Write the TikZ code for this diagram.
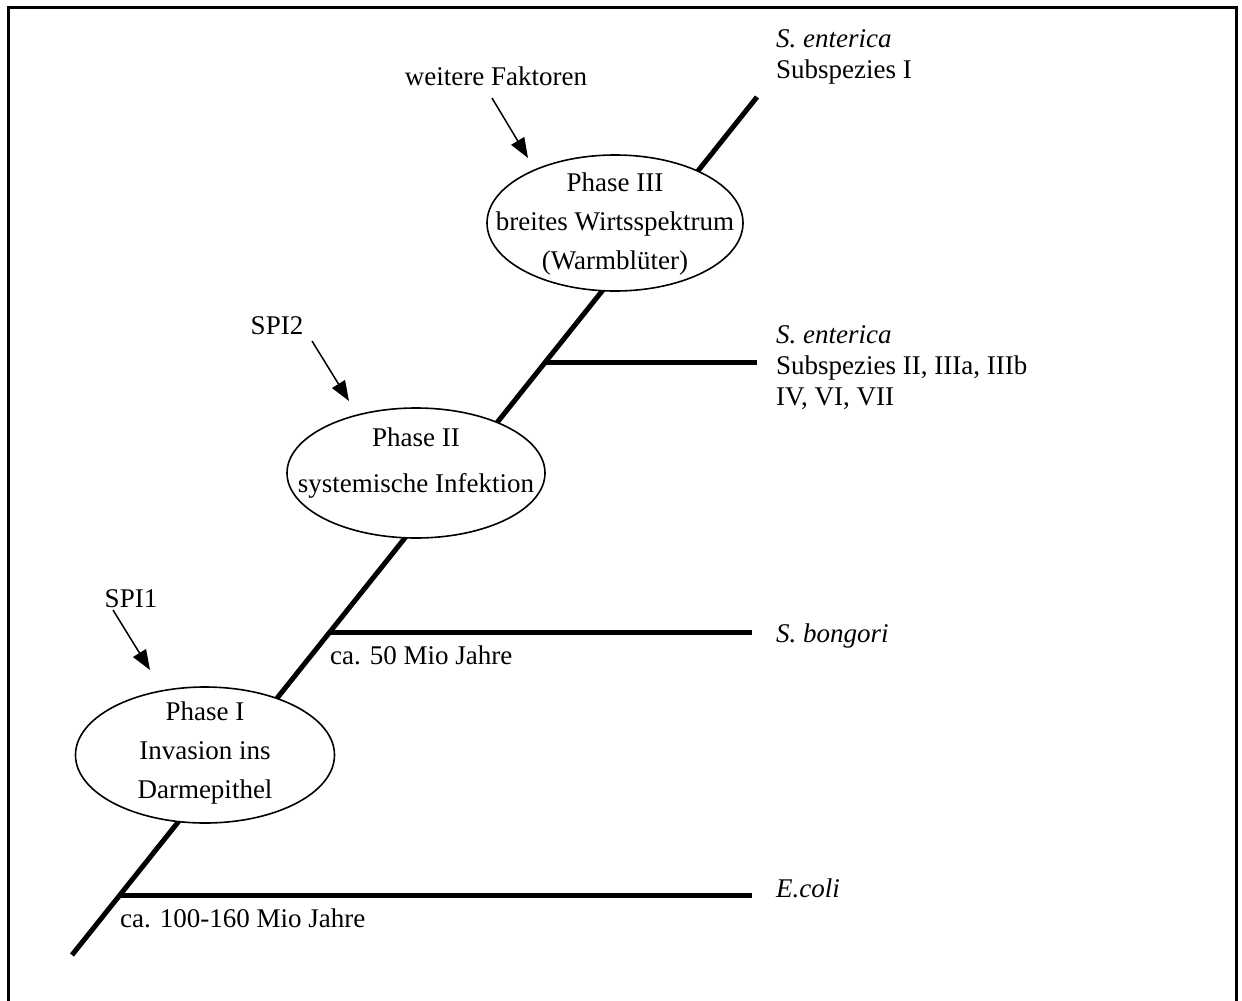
\documentclass[tikz,border=0pt]{standalone}
\usepackage{fontspec}
\setmainfont{Liberation Serif}
\usetikzlibrary{shapes.geometric,arrows.meta}
\begin{document}
\begin{tikzpicture}[x=1pt,y=-1pt,
  phase/.style={ellipse,draw,line width=1.6pt,fill=white,inner sep=0pt},
  stem/.style={line width=5pt},
  lbl/.style={font=\fontsize{27}{31}\selectfont,inner sep=0pt,anchor=west,align=left},
  ptext/.style={font=\fontsize{27}{39}\selectfont,inner sep=0pt,align=center},
  ftext/.style={font=\fontsize{27}{31}\selectfont,inner sep=0pt},
  factor/.style={-{Triangle[length=20pt,width=15pt]},line width=1.5pt}]
\useasboundingbox (0,0) rectangle (1242,1001);
\draw[line width=3pt] (8,1001) -- (8,7) -- (1236,7) -- (1236,1001);
% main stem and branches
\coordinate (root) at (72,955);
\coordinate (tip) at (757,97);
\coordinate (b1) at (120,895);
\coordinate (b2) at (330,632);
\coordinate (b3) at (545,362);
\coordinate (e1) at (752,895);
\coordinate (e2) at (752,632);
\coordinate (e3) at (757,362);
\draw[stem] (root) -- (tip);
\draw[stem] (b1) -- (e1);
\draw[stem] (b2) -- (e2);
\draw[stem] (b3) -- (e3);
% phase ellipses
\node[phase,minimum width=259pt,minimum height=136pt] (p1) at (205,755) {};
\node[phase,minimum width=258pt,minimum height=130pt] (p2) at (416,473) {};
\node[phase,minimum width=256pt,minimum height=136pt] (p3) at (615,223) {};
\node[ptext] (t1) at (205,753) {Phase I\\Invasion ins\\Darmepithel};
\node[ptext,font=\fontsize{27}{46}\selectfont] (t2) at (416,463) {Phase II\\systemische Infektion};
\node[ptext] (t3) at (615,224) {Phase III\\breites Wirtsspektrum\\(Warmblüter)};
% factors
\node[ftext] (f3) at (496,76) {weitere Faktoren};
\node[ftext] (f2) at (277,326) {SPI2};
\node[ftext] (f1) at (131,599) {SPI1};
\coordinate (a3s) at (492,98);
\coordinate (a3e) at (528,158);
\coordinate (a2s) at (312,341);
\coordinate (a2e) at (349,401);
\coordinate (a1s) at (113,610);
\coordinate (a1e) at (150,670);
\draw[factor] (a3s) -- (a3e);
\draw[factor] (a2s) -- (a2e);
\draw[factor] (a1s) -- (a1e);
% species labels
\node[lbl] (s1) at (776,57) {\textit{S. enterica}\\Subspezies I};
\node[lbl] (s2) at (776,368) {\textit{S. enterica}\\Subspezies II, IIIa, IIIb\\IV, VI, VII};
\node[lbl] (s3) at (776,636) {\textit{S. bongori}};
\node[lbl] (s4) at (776,888) {\textit{E.coli}};
% ages
\node[lbl] (age2) at (330,655) {ca. 50 Mio Jahre};
\node[lbl] (age1) at (120,918) {ca. 100-160 Mio Jahre};
\end{tikzpicture}
\end{document}
